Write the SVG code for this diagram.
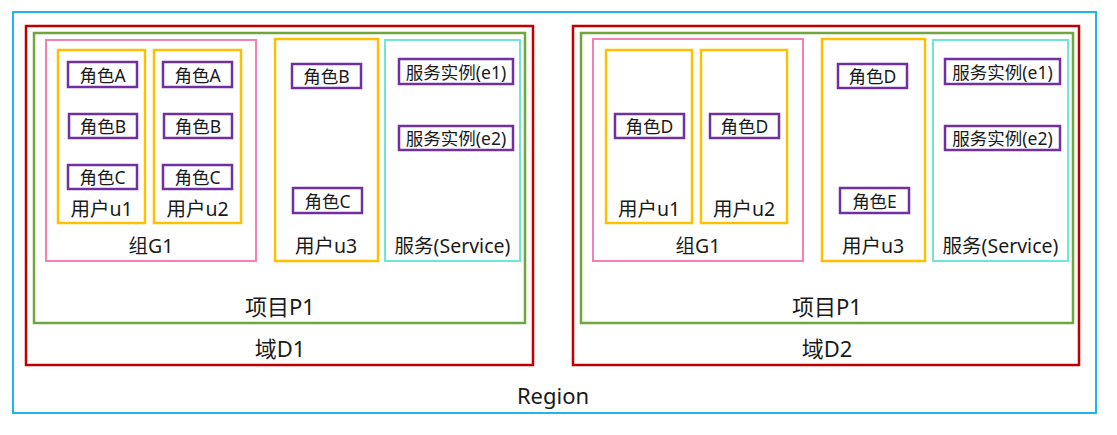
<svg xmlns="http://www.w3.org/2000/svg" width="1117" height="435" viewBox="0 0 1117 435">
<style>
text{font-family:"Noto Sans","Noto Sans CJK SC",sans-serif;fill:#1a1a1a;text-anchor:middle;dominant-baseline:central}
rect{fill:none}
.reg{stroke:#1CB5EE;stroke-width:2}
.dom{stroke:#C00000;stroke-width:2.5}
.prj{stroke:#6FA640;stroke-width:2.5}
.grp{stroke:#F67FB3;stroke-width:2}
.usr{stroke:#FFC000;stroke-width:2.5}
.svc{stroke:#6EE6D9;stroke-width:2}
.role{stroke:#7030A0;stroke-width:2.5}
.t16{font-size:17.5px}
.t18{font-size:19.5px}
.t21{font-size:22px}
</style>
<rect width="1117" height="435" fill="#fff"/>
<g id="region"><rect class="reg" x="13" y="12" width="1083" height="401"/><text class="t21" x="553" y="395">Region</text></g>

<g id="domainD1"><rect class="dom" x="26" y="26" width="507" height="339"/><text class="t21" x="280" y="348">域D1</text></g>
<g id="projectP1-d1"><rect class="prj" x="34" y="33" width="491" height="290"/><text class="t21" x="280" y="306">项目P1</text></g>
<g id="groupG1-d1"><rect class="grp" x="46" y="40" width="210" height="221"/><text class="t18" x="151" y="245">组G1</text></g>
<g id="user-u1-d1"><rect class="usr" x="58" y="50" width="87" height="173"/><text class="t18" x="101.5" y="208">用户u1</text>
<g id="role-u1-a"><rect class="role" x="68" y="62" width="69" height="25"/><text class="t16" x="102.5" y="74.5">角色A</text></g>
<g id="role-u1-b"><rect class="role" x="69" y="114" width="68" height="24"/><text class="t16" x="103" y="126">角色B</text></g>
<g id="role-u1-c"><rect class="role" x="68" y="165" width="69" height="24"/><text class="t16" x="102.5" y="177">角色C</text></g>
</g>
<g id="user-u2-d1"><rect class="usr" x="154" y="50" width="87" height="173"/><text class="t18" x="197.5" y="208">用户u2</text>
<g id="role-u2-a"><rect class="role" x="163" y="62" width="69" height="25"/><text class="t16" x="197.5" y="74.5">角色A</text></g>
<g id="role-u2-b"><rect class="role" x="164" y="114" width="68" height="24"/><text class="t16" x="198" y="126">角色B</text></g>
<g id="role-u2-c"><rect class="role" x="163" y="165" width="69" height="24"/><text class="t16" x="197.5" y="177">角色C</text></g>
</g>
<g id="user-u3-d1"><rect class="usr" x="275" y="39" width="103" height="222"/><text class="t18" x="326" y="245">用户u3</text>
<g id="role-u3-b"><rect class="role" x="292" y="64" width="69" height="24"/><text class="t16" x="326.5" y="76">角色B</text></g>
<g id="role-u3-c"><rect class="role" x="293" y="188" width="69" height="25"/><text class="t16" x="327.5" y="200.5">角色C</text></g>
</g>
<g id="service-d1"><rect class="svc" x="385" y="40" width="135" height="221"/><text class="t18" x="452.5" y="245">服务(Service)</text>
<g id="inst-e1-d1"><rect class="role" x="399" y="59" width="114" height="25"/><text class="t16" x="456" y="71.5">服务实例(e1)</text></g>
<g id="inst-e2-d1"><rect class="role" x="399" y="126" width="114" height="24"/><text class="t16" x="456" y="138">服务实例(e2)</text></g>
</g>

<g id="domainD2"><rect class="dom" x="573" y="26" width="506" height="339"/><text class="t21" x="827" y="348">域D2</text></g>
<g id="projectP1-d2"><rect class="prj" x="581" y="33" width="492" height="290"/><text class="t21" x="827" y="306">项目P1</text></g>
<g id="groupG1-d2"><rect class="grp" x="593" y="39" width="210" height="222"/><text class="t18" x="698" y="245">组G1</text></g>
<g id="user-u1-d2"><rect class="usr" x="606" y="50" width="86" height="173"/><text class="t18" x="649" y="208">用户u1</text>
<g id="role-u1-d"><rect class="role" x="615" y="114" width="69" height="24"/><text class="t16" x="649.5" y="126">角色D</text></g>
</g>
<g id="user-u2-d2"><rect class="usr" x="701" y="50" width="86" height="173"/><text class="t18" x="744" y="208">用户u2</text>
<g id="role-u2-d"><rect class="role" x="710" y="114" width="69" height="24"/><text class="t16" x="744.5" y="126">角色D</text></g>
</g>
<g id="user-u3-d2"><rect class="usr" x="822" y="39" width="103" height="222"/><text class="t18" x="873" y="245">用户u3</text>
<g id="role-u3-d"><rect class="role" x="838" y="64" width="69" height="24"/><text class="t16" x="872.5" y="76">角色D</text></g>
<g id="role-u3-e"><rect class="role" x="840" y="188" width="69" height="25"/><text class="t16" x="874.5" y="200.5">角色E</text></g>
</g>
<g id="service-d2"><rect class="svc" x="933" y="40" width="135" height="221"/><text class="t18" x="1000.5" y="245">服务(Service)</text>
<g id="inst-e1-d2"><rect class="role" x="945" y="59" width="115" height="25"/><text class="t16" x="1002.5" y="71.5">服务实例(e1)</text></g>
<g id="inst-e2-d2"><rect class="role" x="945" y="126" width="115" height="24"/><text class="t16" x="1002.5" y="138">服务实例(e2)</text></g>
</g>
<g id="connectors"></g>
</svg>
